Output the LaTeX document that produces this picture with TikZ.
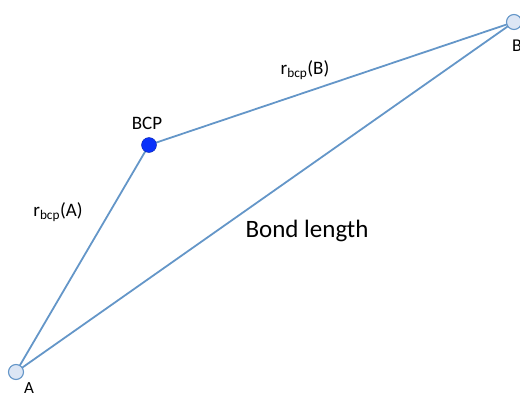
\documentclass[tikz,border=0pt]{standalone}
\usepackage{fontspec}
\setmainfont{Carlito}
\definecolor{linec}{RGB}{100,150,200}
\definecolor{ptfill}{RGB}{220,230,245}
\definecolor{bcpc}{RGB}{10,50,250}
\begin{document}
\begin{tikzpicture}[x=1pt,y=-1pt,
  endpt/.style={circle,draw=linec,fill=ptfill,line width=1.1pt,minimum size=15pt,inner sep=0pt},
  bcpdot/.style={circle,fill=bcpc,draw=bcpc!70!black,line width=0.4pt,minimum size=15pt,inner sep=0pt},
  conn/.style={draw=linec,line width=1.8pt},
  lbl/.style={inner sep=0pt,font=\fontsize{19}{22}\selectfont}]
\useasboundingbox (0,0) rectangle (520,397);
\coordinate (pa) at (16,372);
\coordinate (pb) at (514,22);
\coordinate (pc) at (149,145);
\draw[conn] (pa) -- (pc);
\draw[conn] (pc) -- (pb);
\draw[conn] (pa) -- (pb);
\node[endpt] (A) at (pa) {};
\node[endpt] (B) at (pb) {};
\node[bcpdot] (C) at (pc) {};
\node[lbl,font=\fontsize{17}{20}\selectfont] (la) at (29,388) {A};
\node[lbl,font=\fontsize{18}{20}\selectfont,anchor=west] (lb) at (512,46) {B};
\node[lbl] (lc) at (147,123) {BCP};
\node[lbl] (lra) at (58,212) {r\textsubscript{bcp}(A)};
\node[lbl] (lrb) at (305,70) {r\textsubscript{bcp}(B)};
\node[inner sep=0pt,font=\fontsize{25}{28}\selectfont] (bl) at (307,231) {Bond length};
\end{tikzpicture}
\end{document}
